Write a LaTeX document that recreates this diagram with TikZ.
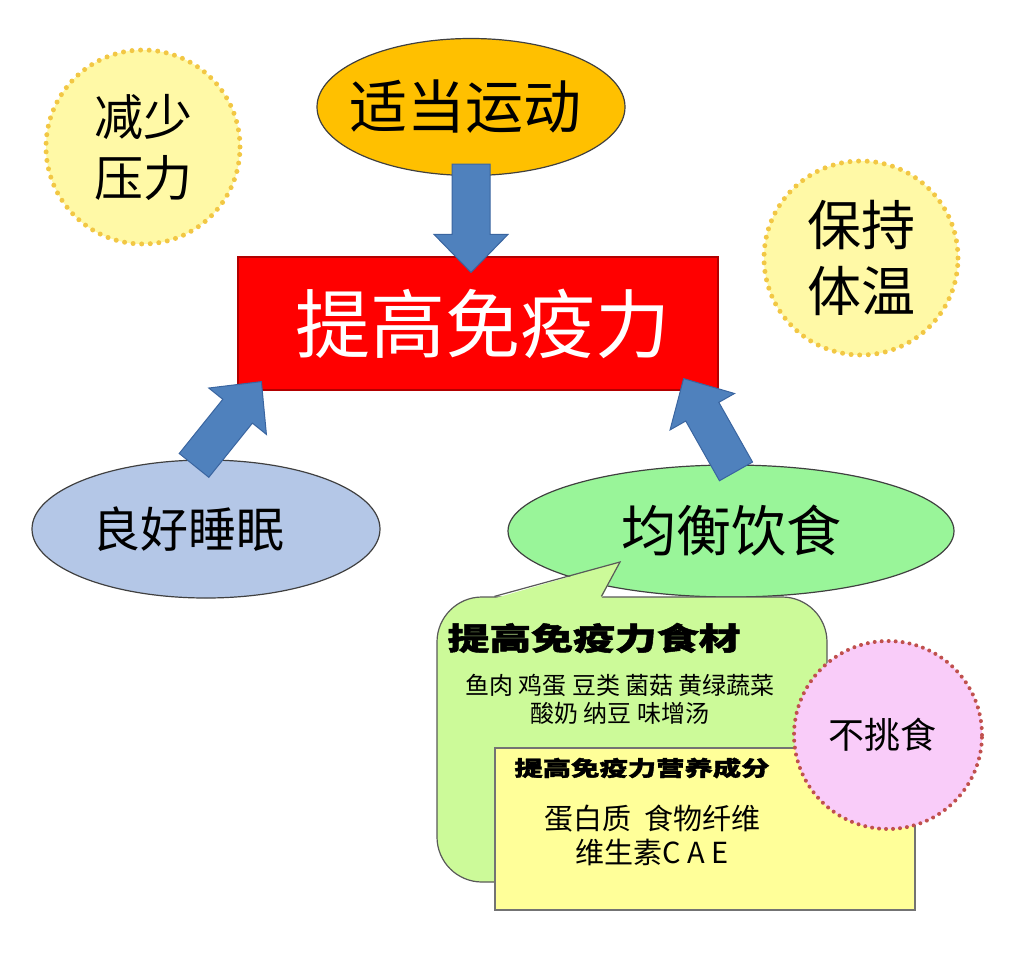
\documentclass[tikz,border=0pt]{standalone}
\usepackage{fontspec}
\setmainfont{Noto Sans CJK SC}
\newfontfamily\heavyfont{Noto Sans CJK SC}[FakeStretch=1.35, BoldFeatures={FakeBold=1.6}]
\usetikzlibrary{shapes.geometric,calc}

\definecolor{bubbleyellow}{HTML}{FFF9A6}
\definecolor{dotgold}{HTML}{F2C744}
\definecolor{sportorange}{HTML}{FFC000}
\definecolor{boostred}{HTML}{FF0000}
\definecolor{arrowblue}{HTML}{4F81BD}
\definecolor{arrowedge}{HTML}{3A65A0}
\definecolor{sleepblue}{HTML}{B4C7E7}
\definecolor{dietgreen}{HTML}{99F599}
\definecolor{foodgreen}{HTML}{CCFA99}
\definecolor{noteyellow}{HTML}{FFFF99}
\definecolor{pickypink}{HTML}{F9CCF9}
\definecolor{dotred}{HTML}{C0504D}

\newcommand{\fsize}[2]{\fontsize{#1pt}{#2pt}\selectfont}
\newcommand{\blockarrow}[2]{%
  \coordinate (h) at ($(#2)!38pt!(#1)$);
  \draw[arrowbody] ($(#1)!19pt!90:(#2)$) -- ($(h)!19pt!90:(#2)$) -- ($(h)!37pt!90:(#2)$) -- (#2)
    -- ($(h)!37pt!-90:(#2)$) -- ($(h)!19pt!-90:(#2)$) -- ($(#1)!19pt!-90:(#2)$) -- cycle;}

\tikzset{
  bubble/.style={circle, fill=bubbleyellow, draw=dotgold, line width=5pt, line cap=round,
    dash pattern=on 0pt off 8.6pt, minimum size=194pt, inner sep=0pt, align=center},
  oval/.style={ellipse, draw=black!75, line width=1.2pt, inner sep=0pt},
  mainbox/.style={rectangle, fill=boostred, draw=red!70!black, line width=1.2pt, text=white,
    minimum width=480pt, minimum height=133pt, font=\fsize{75}{80}},
  arrowbody/.style={fill=arrowblue, draw=arrowedge, line width=1pt, line join=miter},
  calloutbox/.style={rectangle, rounded corners=45pt, fill=foodgreen, draw=black!65, line width=1.2pt},
  notebox/.style={rectangle, fill=noteyellow, draw=black!55, line width=1.2pt},
  heavy/.style={font=\heavyfont\bfseries\fsize{#1}{#1}},
}

\begin{document}
\begin{tikzpicture}[x=1pt, y=-1pt]
\useasboundingbox (0,0) rectangle (1024,958);

\node[bubble, font=\fsize{49}{61}] (stress) at (143,147) {减少\\压力};
\node[bubble, font=\fsize{54}{66}] (warm) at (861,258) {保持\\体温};

\node[oval, fill=sportorange, minimum width=308pt, minimum height=137pt, inner xsep=-14pt, font=\fsize{58}{60}] (sport) at (471,107) {适当运动\hspace*{12pt}};
\node[mainbox] (boost) at (478,323.5) {\hspace*{10pt}提高免疫力};
\node[oval, fill=sleepblue, minimum width=348pt, minimum height=138pt, font=\fsize{48}{50}] (sleep) at (206,529) {良好睡眠\hspace*{36pt}};
\node[oval, fill=dietgreen, minimum width=446pt, minimum height=132pt, font=\fsize{55}{58}] (diet) at (731,531) {均衡饮食};

\coordinate (st) at ([yshift=12pt]sport.south);
\coordinate (sh) at ([yshift=-16pt]st |- boost.north);
\blockarrow{st}{sh}
\coordinate (lt) at ([xshift=-12pt, yshift=-6pt]sleep.north);
\coordinate (lh) at ([xshift=24pt, yshift=9pt]boost.south west);
\blockarrow{lt}{lh}
\coordinate (dt) at ([xshift=5pt, yshift=-7pt]diet.north);
\coordinate (dh) at ([xshift=-35pt, yshift=12pt]boost.south east);
\blockarrow{dt}{dh}

\node[calloutbox, minimum width=390pt, minimum height=285pt] (food) at (632,739.5) {};
\coordinate (fl) at ([xshift=58pt]food.north west);
\coordinate (fr) at ([xshift=165pt]food.north west);
\coordinate (ft) at ([xshift=-111pt, yshift=-31pt]diet.center);
\fill[foodgreen] ([yshift=-2pt]fl) -- (ft) -- ([yshift=-2pt]fr) -- cycle;
\draw[draw=black!65, line width=1.2pt, line join=miter] (fl) -- (ft) -- (fr);
\node[heavy=31] (foodtitle) at (594,638) {提高免疫力食材};
\node[font=\fsize{24}{28}, align=center] (foodlist) at (620,699) {鱼肉 鸡蛋 豆类 菌菇 黄绿蔬菜\\酸奶 纳豆 味增汤};

\node[notebox, minimum width=420pt, minimum height=162pt] (nutrition) at (705,829) {};
\node[heavy=21] (nutritiontitle) at (642,768) {提高免疫力营养成分};
\node[font=\fsize{29}{34}, align=center] (nutritionlist) at (652,835) {蛋白质\ \ 食物纤维\\维生素C A E};

\node[circle, fill=pickypink, draw=dotred, line width=4pt, line cap=round, dash pattern=on 0pt off 7pt,
  minimum size=188pt, inner sep=0pt, font=\fsize{36}{40}] (picky) at (888,735) {不挑食\hspace*{12pt}};
\end{tikzpicture}
\end{document}
